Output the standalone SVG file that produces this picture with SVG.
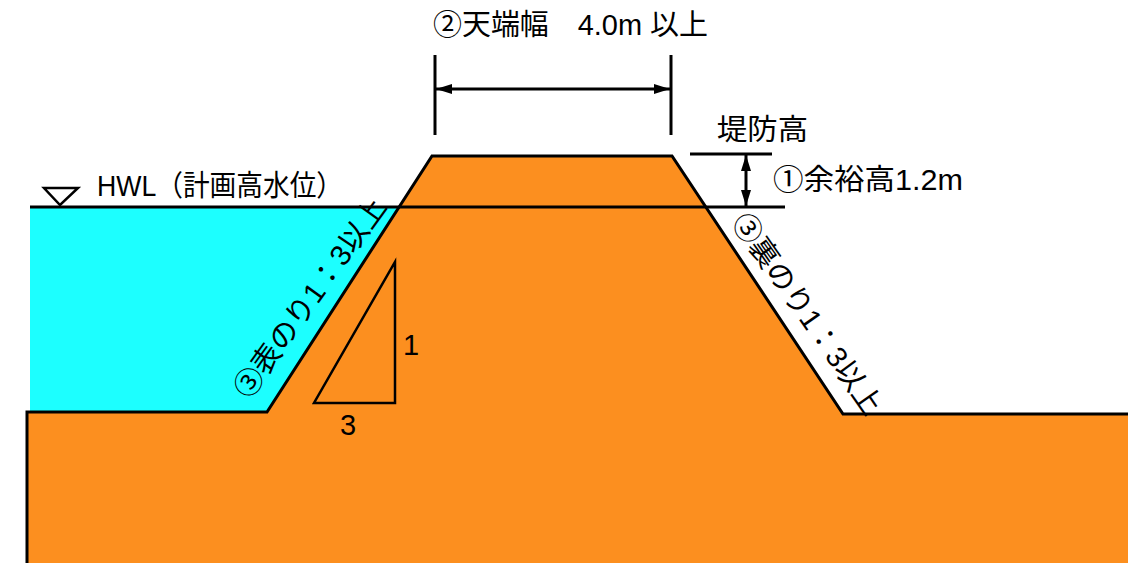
<svg xmlns="http://www.w3.org/2000/svg" width="1128" height="563" viewBox="0 0 1128 563">
  <defs>
    <style>
      .t { font-family: "Liberation Sans", "Noto Sans CJK JP", sans-serif; font-size: 29px; fill: #000; }
      .ln { stroke: #000; stroke-width: 3; fill: none; }
    </style>
    <marker id="ah" viewBox="0 0 16 10" refX="16" refY="5" markerWidth="16" markerHeight="10" markerUnits="userSpaceOnUse" orient="auto-start-reverse">
      <path d="M0,0 L16,5 L0,10 Z" fill="#000"/>
    </marker>
  </defs>
  <rect width="1128" height="563" fill="#fff"/>

  <g id="water">
    <polygon points="30,207 399,207 267,412 30,412" fill="#1CFFFF"/>
  </g>

  <g id="embankment">
    <polygon points="27,412 267,412 432,156 672,156 843,414 1128,414 1128,563 27,563" fill="#FC8F1F"/>
    <polyline class="ln" points="27,563 27,412 267,412 432,156 672,156 843,414 1128,414"/>
  </g>

  <g id="hwl">
    <line class="ln" x1="30" y1="207" x2="785" y2="207" stroke-width="2.5"/>
    <polygon points="44,188 78,188 60,205" fill="none" stroke="#000" stroke-width="2.5"/>
    <text class="t" x="97" y="196" textLength="246" lengthAdjust="spacingAndGlyphs">HWL（計画高水位）</text>
  </g>

  <g id="slope-triangle">
    <polygon points="395,262 395,403 314,403" fill="none" stroke="#000" stroke-width="2.5"/>
    <text class="t" x="411" y="355" text-anchor="middle" font-size="26">1</text>
    <text class="t" x="348" y="435" text-anchor="middle" font-size="26">3</text>
  </g>

  <g id="label-front-slope">
    <text class="t" transform="translate(249,383) rotate(-54.3)" x="-14" y="10" textLength="238" lengthAdjust="spacingAndGlyphs">③表のり1：3以上</text>
  </g>

  <g id="label-back-slope">
    <text class="t" transform="translate(747,228) rotate(55.1)" x="-14" y="10" textLength="238" lengthAdjust="spacingAndGlyphs">③裏のり1：3以上</text>
  </g>

  <g id="crest-width">
    <text class="t" x="433" y="35" textLength="275" lengthAdjust="spacingAndGlyphs">②天端幅　4.0m 以上</text>
  </g>

  <g id="freeboard">
    <text class="t" x="717" y="140" textLength="91" lengthAdjust="spacingAndGlyphs">堤防高</text>
    <line class="ln" x1="690" y1="154" x2="772" y2="154" stroke-width="2.5"/>
    <text class="t" x="773" y="190" textLength="190" lengthAdjust="spacingAndGlyphs">①余裕高1.2m</text>
  </g>

  <g id="connectors">
    <line class="ln" x1="435" y1="55" x2="435" y2="135"/>
    <line class="ln" x1="671" y1="55" x2="671" y2="135"/>
    <line class="ln" x1="436" y1="89" x2="670" y2="89" stroke-width="2.5" marker-start="url(#ah)" marker-end="url(#ah)"/>
    <line class="ln" x1="746" y1="155" x2="746" y2="206" stroke-width="2.5" marker-start="url(#ah)" marker-end="url(#ah)"/>
  </g>
</svg>
